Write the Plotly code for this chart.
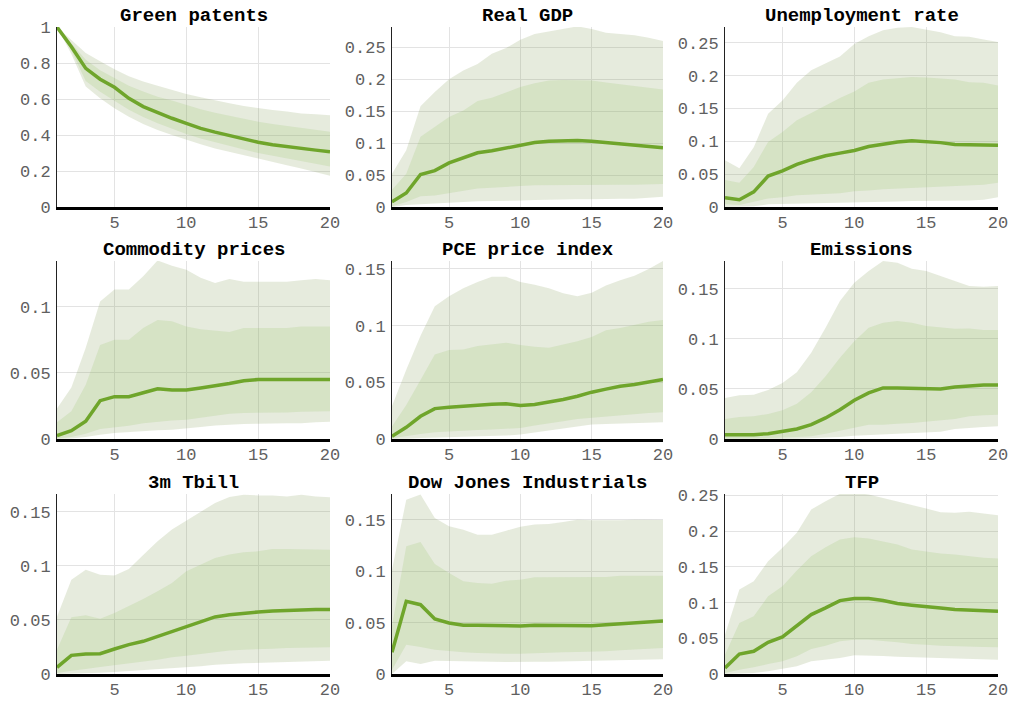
import plotly.graph_objects as go

horizon = list(range(1, 21))
titles = ["Green patents", "Real GDP", "Unemployment rate",
          "Commodity prices", "PCE price index", "Emissions",
          "3m Tbill", "Dow Jones Industrials", "TFP"]

# ---- Green patents
gp_med = [1.0, 0.89, 0.77, 0.71, 0.665, 0.604, 0.558, 0.524, 0.493, 0.465, 0.437, 0.416, 0.396, 0.375, 0.36, 0.346, 0.335, 0.325, 0.316, 0.307]
gp_hi90 = [1.0, 0.93, 0.855, 0.81, 0.765, 0.727, 0.697, 0.673, 0.65, 0.628, 0.61, 0.592, 0.576, 0.561, 0.548, 0.539, 0.53, 0.52, 0.515, 0.51]
gp_hi68 = [1.0, 0.91, 0.818, 0.76, 0.716, 0.673, 0.641, 0.613, 0.591, 0.567, 0.543, 0.524, 0.506, 0.489, 0.474, 0.461, 0.45, 0.439, 0.428, 0.418]
gp_lo68 = [1.0, 0.87, 0.70, 0.64, 0.59, 0.54, 0.50, 0.465, 0.435, 0.405, 0.38, 0.36, 0.34, 0.32, 0.30, 0.285, 0.27, 0.255, 0.24, 0.225]
gp_lo90 = [1.0, 0.85, 0.669, 0.604, 0.548, 0.502, 0.461, 0.428, 0.40, 0.372, 0.348, 0.325, 0.305, 0.286, 0.27, 0.251, 0.232, 0.214, 0.195, 0.173]

# ---- Real GDP
gdp_med = [0.008, 0.022, 0.051, 0.057, 0.069, 0.077, 0.085, 0.088, 0.092, 0.097, 0.101, 0.103, 0.104, 0.104, 0.103, 0.101, 0.099, 0.097, 0.095, 0.093]
gdp_hi90 = [0.052, 0.089, 0.158, 0.18, 0.20, 0.214, 0.224, 0.24, 0.249, 0.262, 0.271, 0.275, 0.28, 0.283, 0.279, 0.273, 0.271, 0.269, 0.265, 0.26]
gdp_hi68 = [0.027, 0.052, 0.11, 0.126, 0.141, 0.151, 0.166, 0.171, 0.18, 0.188, 0.194, 0.198, 0.199, 0.199, 0.198, 0.195, 0.192, 0.189, 0.187, 0.184]
gdp_lo68 = [0.001, 0.008, 0.017, 0.018, 0.022, 0.025, 0.029, 0.03, 0.031, 0.033, 0.034, 0.035, 0.035, 0.035, 0.035, 0.035, 0.035, 0.035, 0.035, 0.036]
gdp_lo90 = [0.0, 0.003, 0.005, 0.006, 0.007, 0.008, 0.009, 0.009, 0.010, 0.010, 0.011, 0.012, 0.012, 0.012, 0.012, 0.012, 0.013, 0.013, 0.014, 0.016]

# ---- Unemployment rate
ur_med = [0.014, 0.011, 0.023, 0.047, 0.055, 0.065, 0.072, 0.078, 0.082, 0.086, 0.092, 0.096, 0.099, 0.101, 0.100, 0.098, 0.095, 0.095, 0.095, 0.094]
ur_hi90 = [0.071, 0.059, 0.091, 0.142, 0.162, 0.189, 0.208, 0.219, 0.229, 0.248, 0.26, 0.269, 0.273, 0.274, 0.27, 0.266, 0.26, 0.259, 0.255, 0.251]
ur_hi68 = [0.041, 0.037, 0.061, 0.099, 0.114, 0.132, 0.143, 0.155, 0.166, 0.176, 0.189, 0.194, 0.196, 0.198, 0.197, 0.195, 0.194, 0.19, 0.189, 0.185]
ur_lo68 = [0.004, 0.003, 0.008, 0.013, 0.015, 0.018, 0.019, 0.020, 0.021, 0.024, 0.025, 0.027, 0.029, 0.030, 0.031, 0.032, 0.032, 0.033, 0.034, 0.037]
ur_lo90 = [0.0, 0.0, 0.001, 0.004, 0.005, 0.0055, 0.006, 0.006, 0.0065, 0.007, 0.0075, 0.008, 0.0085, 0.009, 0.009, 0.0095, 0.010, 0.010, 0.011, 0.015]

# ---- Commodity prices
cp_med = [0.0025, 0.0063, 0.0134, 0.029, 0.032, 0.032, 0.035, 0.038, 0.037, 0.037, 0.0386, 0.040, 0.042, 0.044, 0.045, 0.045, 0.045, 0.045, 0.045, 0.045]
cp_hi90 = [0.023, 0.039, 0.069, 0.104, 0.113, 0.113, 0.123, 0.135, 0.131, 0.128, 0.122, 0.118, 0.121, 0.119, 0.119, 0.119, 0.119, 0.120, 0.121, 0.120]
cp_hi68 = [0.0126, 0.021, 0.041, 0.071, 0.075, 0.075, 0.084, 0.090, 0.089, 0.085, 0.083, 0.082, 0.081, 0.084, 0.084, 0.084, 0.084, 0.085, 0.085, 0.085]
cp_lo68 = [0.0003, 0.0015, 0.004, 0.0076, 0.009, 0.010, 0.012, 0.013, 0.014, 0.0146, 0.016, 0.0177, 0.019, 0.0197, 0.020, 0.020, 0.020, 0.0207, 0.021, 0.021]
cp_lo90 = [0.0, 0.0003, 0.0015, 0.0033, 0.0045, 0.005, 0.006, 0.0066, 0.007, 0.0078, 0.009, 0.0103, 0.011, 0.0114, 0.0116, 0.0116, 0.012, 0.012, 0.0126, 0.013]

# ---- PCE price index
pce_med = [0.0024, 0.0103, 0.020, 0.0268, 0.028, 0.029, 0.0298, 0.0306, 0.031, 0.0295, 0.0304, 0.0324, 0.0348, 0.0377, 0.0413, 0.044, 0.0466, 0.048, 0.050, 0.0525]
pce_hi90 = [0.029, 0.061, 0.091, 0.117, 0.126, 0.133, 0.1385, 0.143, 0.143, 0.1385, 0.136, 0.133, 0.1285, 0.126, 0.129, 0.1355, 0.140, 0.144, 0.150, 0.157]
pce_hi68 = [0.011, 0.030, 0.052, 0.0746, 0.0784, 0.079, 0.082, 0.0834, 0.085, 0.083, 0.0813, 0.0805, 0.0834, 0.0863, 0.090, 0.096, 0.098, 0.101, 0.1035, 0.105]
pce_lo68 = [0.0006, 0.0024, 0.0044, 0.006, 0.0068, 0.0074, 0.008, 0.0083, 0.0088, 0.0097, 0.0118, 0.014, 0.0156, 0.0177, 0.019, 0.020, 0.021, 0.022, 0.023, 0.0236]
pce_lo90 = [0.0, 0.0003, 0.0009, 0.0018, 0.002, 0.0024, 0.0026, 0.0027, 0.003, 0.004, 0.006, 0.0077, 0.009, 0.011, 0.0127, 0.0133, 0.014, 0.0141, 0.0144, 0.0147]

# ---- Emissions
em_med = [0.0043, 0.0043, 0.0043, 0.0053, 0.0073, 0.010, 0.0143, 0.021, 0.0293, 0.0387, 0.046, 0.051, 0.051, 0.0507, 0.050, 0.050, 0.052, 0.0533, 0.054, 0.054]
em_hi90 = [0.041, 0.0437, 0.0443, 0.049, 0.056, 0.0667, 0.086, 0.111, 0.1377, 0.156, 0.1677, 0.1777, 0.176, 0.170, 0.1677, 0.163, 0.1577, 0.1527, 0.152, 0.1527]
em_hi68 = [0.020, 0.022, 0.0227, 0.025, 0.0287, 0.0353, 0.0467, 0.0627, 0.081, 0.0977, 0.111, 0.116, 0.1177, 0.116, 0.1127, 0.1117, 0.110, 0.1103, 0.1087, 0.1087]
em_lo68 = [0.0003, 0.0003, 0.0007, 0.001, 0.0013, 0.002, 0.0027, 0.0053, 0.0083, 0.011, 0.0143, 0.0143, 0.0153, 0.016, 0.017, 0.0187, 0.020, 0.0227, 0.0237, 0.0243]
em_lo90 = [0.0, 0.0, 0.0, 0.0, 0.0, 0.0003, 0.0007, 0.0013, 0.002, 0.0033, 0.0043, 0.005, 0.0053, 0.006, 0.0067, 0.0073, 0.010, 0.011, 0.012, 0.0127]

# ---- 3m Tbill
tb_med = [0.0062, 0.0172, 0.0185, 0.0188, 0.0231, 0.0271, 0.0302, 0.0348, 0.0394, 0.044, 0.0487, 0.0527, 0.0548, 0.0564, 0.0573, 0.0582, 0.0588, 0.0594, 0.0597, 0.0597]
tb_hi90 = [0.053, 0.087, 0.0964, 0.0918, 0.0909, 0.097, 0.110, 0.1226, 0.1334, 0.1417, 0.1503, 0.158, 0.1635, 0.1657, 0.165, 0.165, 0.1641, 0.1657, 0.1641, 0.1632]
tb_hi68 = [0.0225, 0.0524, 0.0542, 0.0511, 0.0564, 0.0625, 0.0693, 0.0764, 0.0841, 0.0949, 0.101, 0.1072, 0.1103, 0.1124, 0.1133, 0.1155, 0.1155, 0.1155, 0.1152, 0.1149]
tb_lo68 = [0.0009, 0.0031, 0.0046, 0.0065, 0.0086, 0.0102, 0.0117, 0.0132, 0.0154, 0.0169, 0.0185, 0.0203, 0.0216, 0.0225, 0.0231, 0.0234, 0.024, 0.0243, 0.0246, 0.0246]
tb_lo90 = [0.0, 0.0003, 0.0009, 0.0012, 0.0018, 0.0025, 0.0031, 0.004, 0.0049, 0.0062, 0.0071, 0.0086, 0.0092, 0.0099, 0.0102, 0.0108, 0.0111, 0.0117, 0.012, 0.0123]

# ---- Dow Jones Industrials
dj_med = [0.0211, 0.0708, 0.0675, 0.0536, 0.0497, 0.0474, 0.0474, 0.0471, 0.0468, 0.0468, 0.0474, 0.0474, 0.0471, 0.0468, 0.0471, 0.048, 0.049, 0.0503, 0.051, 0.0516]
dj_hi90 = [0.1016, 0.1698, 0.1747, 0.152, 0.1438, 0.1406, 0.1357, 0.1357, 0.1396, 0.1435, 0.1455, 0.1461, 0.148, 0.1503, 0.1497, 0.1494, 0.1497, 0.1503, 0.1503, 0.150]
dj_hi68 = [0.0464, 0.1244, 0.1286, 0.1071, 0.0984, 0.0903, 0.0886, 0.088, 0.0909, 0.0919, 0.0942, 0.0942, 0.0945, 0.0945, 0.0945, 0.0945, 0.0958, 0.0958, 0.0958, 0.0958]
dj_lo68 = [0.0042, 0.0286, 0.0263, 0.0237, 0.0221, 0.0211, 0.0205, 0.0205, 0.0198, 0.0198, 0.0205, 0.0205, 0.0211, 0.0214, 0.0214, 0.0221, 0.0231, 0.0244, 0.0247, 0.0253]
dj_lo90 = [0.0, 0.0123, 0.0097, 0.013, 0.0127, 0.0123, 0.0123, 0.012, 0.0117, 0.0117, 0.012, 0.012, 0.0123, 0.0123, 0.0123, 0.013, 0.0133, 0.0136, 0.014, 0.0143]

# ---- TFP
tfp_med = [0.0084, 0.028, 0.0318, 0.0444, 0.0519, 0.0668, 0.0832, 0.0925, 0.1028, 0.1056, 0.1056, 0.1028, 0.0986, 0.0963, 0.0949, 0.0925, 0.0902, 0.0897, 0.0893, 0.0879]
tfp_hi90 = [0.0551, 0.1182, 0.1299, 0.158, 0.1766, 0.1977, 0.2304, 0.242, 0.2523, 0.2537, 0.2514, 0.2467, 0.242, 0.2374, 0.2318, 0.2266, 0.2257, 0.2271, 0.2243, 0.2224]
tfp_hi68 = [0.0271, 0.0715, 0.0808, 0.1089, 0.1229, 0.1449, 0.165, 0.1776, 0.1883, 0.1916, 0.1897, 0.185, 0.1813, 0.1743, 0.171, 0.1687, 0.1673, 0.165, 0.1626, 0.1617]
tfp_lo68 = [0.0014, 0.0061, 0.0093, 0.014, 0.0178, 0.0248, 0.035, 0.0397, 0.0458, 0.0481, 0.0481, 0.0467, 0.0444, 0.0421, 0.0411, 0.0397, 0.0388, 0.0383, 0.0379, 0.0374]
tfp_lo90 = [0.0, 0.0009, 0.0014, 0.0037, 0.007, 0.0107, 0.0178, 0.0201, 0.0224, 0.0262, 0.0257, 0.0252, 0.0243, 0.0234, 0.0229, 0.0224, 0.0215, 0.021, 0.0206, 0.0201]

panels = [
    (gp_med, gp_lo90, gp_lo68, gp_hi68, gp_hi90),
    (gdp_med, gdp_lo90, gdp_lo68, gdp_hi68, gdp_hi90),
    (ur_med, ur_lo90, ur_lo68, ur_hi68, ur_hi90),
    (cp_med, cp_lo90, cp_lo68, cp_hi68, cp_hi90),
    (pce_med, pce_lo90, pce_lo68, pce_hi68, pce_hi90),
    (em_med, em_lo90, em_lo68, em_hi68, em_hi90),
    (tb_med, tb_lo90, tb_lo68, tb_hi68, tb_hi90),
    (dj_med, dj_lo90, dj_lo68, dj_hi68, dj_hi90),
    (tfp_med, tfp_lo90, tfp_lo68, tfp_hi68, tfp_hi90),
]

y_tops = [1.0, 0.282, 0.274, 0.1346, 0.157, 0.1777, 0.1663, 0.1753, 0.252]
y_dticks = [0.2, 0.05, 0.05, 0.05, 0.05, 0.05, 0.05, 0.05, 0.05]

W, H = 1009, 701
col_px = [(57, 330), (392, 663), (725, 998)]
row_px = [(27, 207), (261, 439), (494, 674)]

OUTER = "rgba(120,148,75,0.19)"
INNER = "rgba(149,197,105,0.20)"
LINE = "#6fa52b"
MONO = "Liberation Mono, Courier New, monospace"
TICKC = "#606060"

fig = go.Figure()
layout = dict(
    width=W, height=H, margin=dict(l=0, r=0, t=0, b=0, autoexpand=False),
    paper_bgcolor="white", plot_bgcolor="white", showlegend=False,
)
annotations = []
for i, (med, lo90, lo68, hi68, hi90) in enumerate(panels):
    r, c = divmod(i, 3)
    xa = "x" if i == 0 else f"x{i+1}"
    ya = "y" if i == 0 else f"y{i+1}"
    back = horizon[::-1]
    fig.add_trace(go.Scatter(x=horizon + back, y=hi90 + lo90[::-1], fill="toself",
                             fillcolor=OUTER, line=dict(width=0), mode="lines",
                             hoverinfo="skip", xaxis=xa, yaxis=ya))
    fig.add_trace(go.Scatter(x=horizon + back, y=hi68 + lo68[::-1], fill="toself",
                             fillcolor=INNER, line=dict(width=0), mode="lines",
                             hoverinfo="skip", xaxis=xa, yaxis=ya))
    fig.add_trace(go.Scatter(x=horizon, y=med, mode="lines",
                             line=dict(color=LINE, width=3.5), xaxis=xa, yaxis=ya))
    x0, x1 = col_px[c]
    t0, t1 = row_px[r]
    xkey = "xaxis" if i == 0 else f"xaxis{i+1}"
    ykey = "yaxis" if i == 0 else f"yaxis{i+1}"
    layout[xkey] = dict(
        domain=[x0 / W, x1 / W], anchor=ya, range=[1, 20],
        tickvals=[5, 10, 15, 20], showgrid=True, gridcolor="#e3e3e3", gridwidth=1,
        showline=True, linecolor="black", linewidth=2.5, zeroline=False,
        ticks="", tickfont=dict(family=MONO, size=17, color=TICKC),
        ticklabelstandoff=-2,
        layer="above traces", fixedrange=True,
    )
    layout[ykey] = dict(
        domain=[1 - t1 / H, 1 - t0 / H], anchor=xa, range=[0, y_tops[i]],
        dtick=y_dticks[i], tick0=0, showgrid=True, gridcolor="#e3e3e3", gridwidth=1,
        showline=True, linecolor="#222222", linewidth=1, zeroline=False,
        ticks="", tickfont=dict(family=MONO, size=17, color=TICKC),
        ticklabelstandoff=2,
        layer="above traces", fixedrange=True,
    )
    annotations.append(dict(
        text=f"<b>{titles[i]}</b>", x=(x0 + x1) / 2 / W, y=1 - t0 / H,
        xref="paper", yref="paper", xanchor="center", yanchor="bottom",
        yshift=-2, showarrow=False,
        font=dict(family=MONO, size=19, color="black"),
    ))

layout["annotations"] = annotations
fig.update_layout(**layout)
fig.write_html(
    "out.html",
    config={"displayModeBar": False, "staticPlot": True},
    post_script="document.body.style.margin='0';document.body.style.overflow='hidden';",
)
